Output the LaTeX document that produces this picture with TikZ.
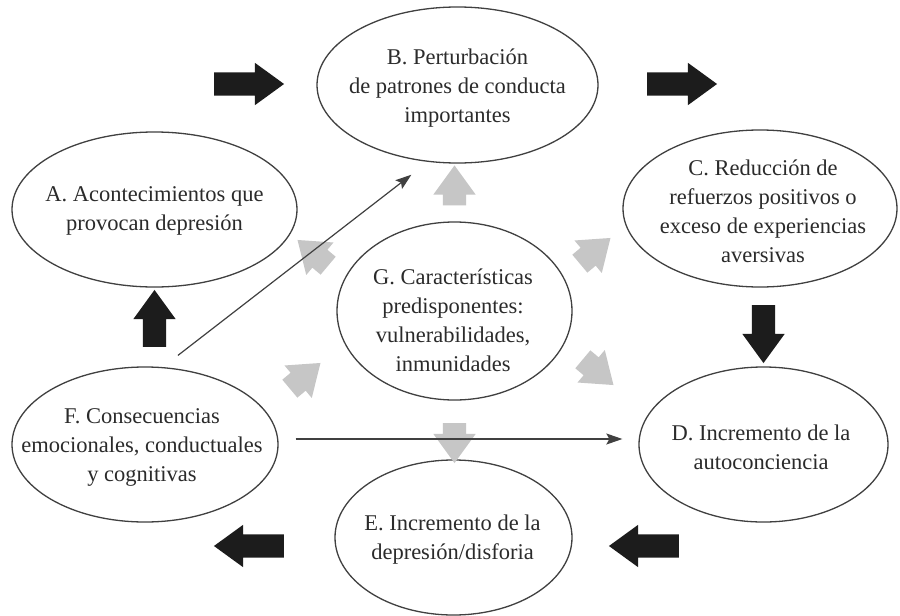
\documentclass[tikz,border=0pt]{standalone}
\usepackage{fontspec}
\setmainfont{Liberation Serif}
\usetikzlibrary{shapes.geometric,shapes.arrows,arrows.meta}
\definecolor{inkc}{HTML}{2B2B2B}
\definecolor{linec}{HTML}{404040}
\definecolor{blk}{HTML}{1C1C1C}
\definecolor{gry}{HTML}{C6C6C6}
\tikzset{
  ell/.style={ellipse, draw=linec, line width=1.3pt, inner sep=0pt},
  txt/.style={align=center, text=inkc, font=\fontsize{22.5}{29}\selectfont, inner sep=0pt},
  blockarrow/.style={single arrow, fill=blk, draw=none, inner xsep=0pt, inner ysep=11.5pt,
    minimum width=42pt, single arrow head extend=9.5pt, single arrow tip angle=72,
    single arrow head indent=0pt},
  grayarrow/.style={blockarrow, fill=gry},
  thinarrow/.style={draw=linec, line width=1.2pt, -{Stealth[length=16pt,width=11pt,inset=3pt]}},
}
\begin{document}
\begin{tikzpicture}[x=1pt,y=-1pt]
  \fill[white] (0,0) rectangle (900,616);
  \useasboundingbox (0,0) rectangle (900,616);

  % ellipses
  \node[ell, minimum width=285pt, minimum height=155pt] (A) at (154.5,209.5) {};
  \node[ell, minimum width=281pt, minimum height=156pt] (B) at (457.5,85) {};
  \node[ell, minimum width=274pt, minimum height=157pt] (C) at (760,208.5) {};
  \node[ell, minimum width=249pt, minimum height=155pt] (D) at (763.5,444.5) {};
  \node[ell, minimum width=237pt, minimum height=155pt] (E) at (453.5,537.5) {};
  \node[ell, minimum width=266pt, minimum height=155pt] (F) at (145,444.5) {};
  \node[ell, minimum width=235pt, minimum height=178pt] (G) at (454.5,311) {};

  % texts
  \node[txt] (At) at (154.5,211) {A. Acontecimientos que\\provocan depresión};
  \node[txt] (Bt) at (457.5,88) {B. Perturbación\\de patrones de conducta\\importantes};
  \node[txt] (Ct) at (763,211.5) {C. Reducción de\\refuerzos positivos o\\exceso de experiencias\\aversivas};
  \node[txt] (Dt) at (761,447) {D. Incremento de la\\autoconciencia};
  \node[txt] (Et) at (452.5,540) {E. Incremento de la\\depresión/disforia};
  \node[txt] (Ft) at (142,447) {F. Consecuencias\\emocionales, conductuales\\y cognitivas};
  \node[txt] (Gt) at (453,320) {G. Características\\predisponentes:\\vulnerabilidades,\\inmunidades};

  % black block arrows
  \node[blockarrow, minimum height=70pt] (k1) at (241,84) {};
  \node[blockarrow, minimum height=70pt] (k2) at (674,84) {};
  \node[blockarrow, minimum height=58pt, rotate=-90] (k3) at (763.5,326) {};
  \node[blockarrow, minimum height=70pt, rotate=180] (k4) at (652,546) {};
  \node[blockarrow, minimum height=70pt, rotate=180] (k5) at (257,546) {};
  \node[blockarrow, minimum height=57pt, rotate=90] (k6) at (154.5,326.5) {};

  % gray block arrows from G
  \node[grayarrow, minimum height=40pt, rotate=90] (g1) at (454.5,193.5) {};
  \node[grayarrow, minimum height=40pt, rotate=40] (g2) at (589,256) {};
  \node[grayarrow, minimum height=40pt, rotate=-40] (g3) at (592,367) {};
  \node[grayarrow, minimum height=40pt, rotate=-90] (g4) at (454.5,435) {};
  \node[grayarrow, minimum height=40pt, rotate=40] (g5) at (299,381) {};
  \node[grayarrow, minimum height=40pt, rotate=140] (g6) at (319,258) {};

  % thin arrows
  \draw[thinarrow, shorten <=19pt, shorten >=21pt] (F.77.6) -- (B.249.2);
  \draw[thinarrow, shorten <=17pt, shorten >=16pt] ([yshift=5.5pt]F.east) -- ([yshift=5.5pt]D.west);
\end{tikzpicture}
\end{document}
